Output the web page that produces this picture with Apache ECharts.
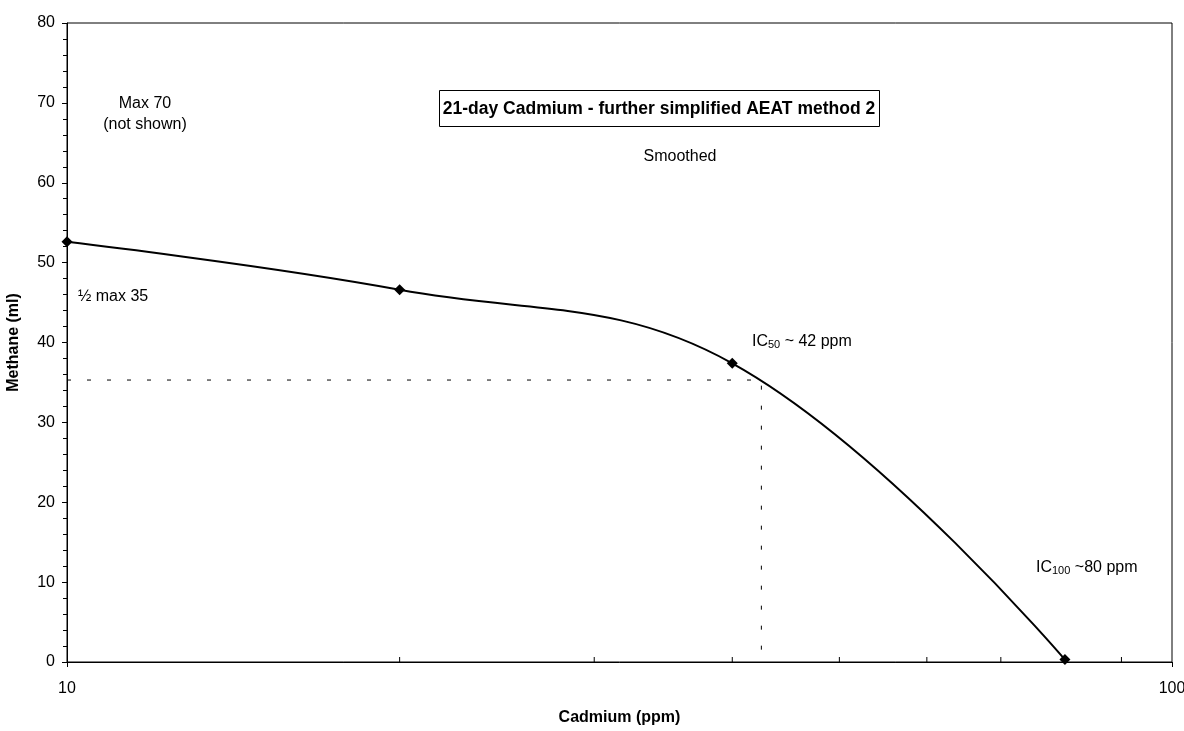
<!DOCTYPE html>
<html>
<head>
<meta charset="utf-8">
<script src="https://cdn.jsdelivr.net/npm/echarts@6/dist/echarts.min.js"></script>
<style>html,body{margin:0;padding:0;background:#fff}#c{width:1184px;height:731px}</style>
</head>
<body>
<div id="c"></div>
<script>
// Data
const cadmium = [10, 20, 40, 80];
const methane = [52.6, 46.6, 37.4, 0.3];
const halfMaxLine = [[10, 35.3], [42.5, 35.3], [42.5, 0]];
const xMinorTicks = [20, 30, 40, 50, 60, 70, 80, 90];
const yTicks = {min: 0, max: 80, interval: 10};
const titleText = '21-day Cadmium - further simplified AEAT method 2';

const FONT = '"Liberation Sans", Arial, sans-serif';
const chart = echarts.init(document.getElementById('c'), null, {renderer: 'canvas'});

const option = {
  backgroundColor: '#fff',
  animation: false,
  grid: {left: 67, right: 12, top: 23, bottom: 69, show: true, borderColor: '#000', borderWidth: 1, outerBoundsMode: 'none', containLabel: false},
  xAxis: {
    type: 'log', logBase: 10, min: 10, max: 100,
    name: 'Cadmium (ppm)', nameLocation: 'middle', nameGap: 48,
    nameTextStyle: {fontFamily: FONT, fontWeight: 'bold', fontSize: 16, color: '#000'},
    axisLine: {lineStyle: {color: '#000', width: 1}},
    axisTick: {show: true, length: 5, lineStyle: {color: '#000'}},
    axisLabel: {fontFamily: FONT, fontSize: 16, color: '#000', margin: 19},
    splitLine: {show: false}
  },
  yAxis: {
    type: 'value', min: yTicks.min, max: yTicks.max, interval: yTicks.interval,
    name: 'Methane (ml)', nameLocation: 'middle', nameGap: 45,
    nameTextStyle: {fontFamily: FONT, fontWeight: 'bold', fontSize: 16, color: '#000'},
    axisLine: {show: true, lineStyle: {color: '#000', width: 1}},
    axisTick: {show: true, length: 5, lineStyle: {color: '#000'}},
    minorTick: {show: true, splitNumber: 5, length: 4, lineStyle: {color: '#000'}},
    axisLabel: {fontFamily: FONT, fontSize: 16, color: '#000', margin: 12},
    splitLine: {show: false}
  },
  series: [
    {
      type: 'line',
      data: halfMaxLine,
      symbol: 'none',
      lineStyle: {color: '#000', width: 1, type: [4, 16]},
      silent: true
    },
    {
      type: 'line',
      data: cadmium.map((x, i) => [x, methane[i]]),
      smooth: 0.4,
      symbol: 'diamond',
      symbolSize: 11,
      itemStyle: {color: '#000'},
      lineStyle: {color: '#000', width: 2},
      z: 5
    },
    {
      type: 'custom',
      data: xMinorTicks.map(v => [v, 0]),
      silent: true,
      renderItem: function (params, api) {
        const p = api.coord([api.value(0), 0]);
        return {
          type: 'line',
          shape: {x1: p[0], y1: p[1], x2: p[0], y2: p[1] - 5},
          style: {stroke: '#000', lineWidth: 1}
        };
      }
    }
  ],
  graphic: [
    {
      type: 'rect', left: 439, top: 90,
      shape: {width: 440, height: 36},
      style: {fill: '#fff', stroke: '#000', lineWidth: 1}
    },
    {
      type: 'text', x: 659, y: 109,
      style: {text: titleText, font: 'bold 17.5px ' + FONT, fill: '#000', align: 'center', verticalAlign: 'middle'}
    },
    {
      type: 'text', x: 680, y: 157,
      style: {text: 'Smoothed', font: '16px ' + FONT, fill: '#000', align: 'center', verticalAlign: 'middle'}
    },
    {
      type: 'text', x: 145, y: 114,
      style: {text: 'Max 70\n(not shown)', font: '16px ' + FONT, lineHeight: 21, fill: '#000', align: 'center', verticalAlign: 'middle'}
    },
    {
      type: 'text', x: 78, y: 297,
      style: {text: '½ max 35', font: '16px ' + FONT, fill: '#000', align: 'left', verticalAlign: 'middle'}
    },
    {
      type: 'text', x: 752, y: 340,
      style: {
        text: '{a|IC}{s|50}{a| ~ 42 ppm}',
        align: 'left', verticalAlign: 'middle',
        rich: {
          a: {fontFamily: FONT, fontSize: 16, color: '#000', verticalAlign: 'bottom', lineHeight: 20},
          s: {fontFamily: FONT, fontSize: 11, color: '#000', verticalAlign: 'bottom', lineHeight: 16}
        }
      }
    },
    {
      type: 'text', x: 1036, y: 566,
      style: {
        text: '{a|IC}{s|100}{a| ~80 ppm}',
        align: 'left', verticalAlign: 'middle',
        rich: {
          a: {fontFamily: FONT, fontSize: 16, color: '#000', verticalAlign: 'bottom', lineHeight: 20},
          s: {fontFamily: FONT, fontSize: 11, color: '#000', verticalAlign: 'bottom', lineHeight: 16}
        }
      }
    }
  ]
};
chart.setOption(option);
</script>
</body>
</html>
